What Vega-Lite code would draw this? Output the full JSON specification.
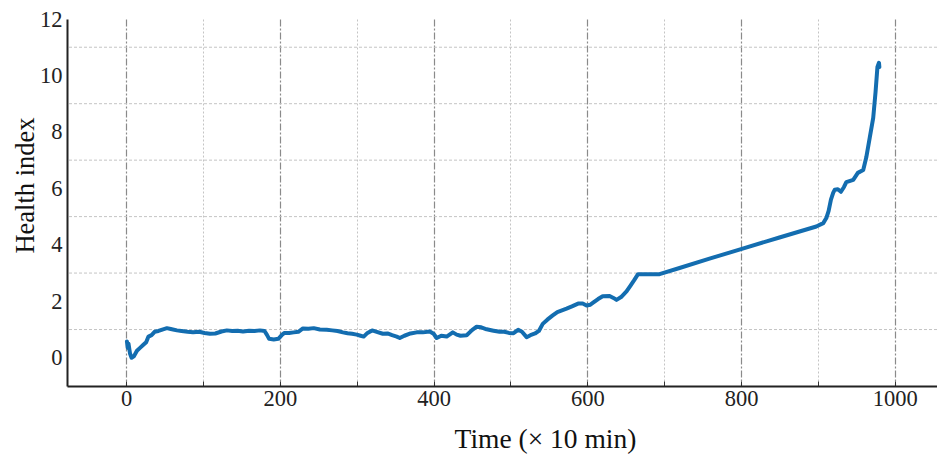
{
  "$schema": "https://vega.github.io/schema/vega-lite/v6.json",
  "width": 870,
  "height": 367,
  "autosize": {"type": "none"},
  "padding": {"left": 67, "top": 19, "right": 0, "bottom": 71},
  "background": "white",
  "config": {
    "view": {"stroke": null},
    "font": "Liberation Serif"
  },
  "datasets": {
    "hgrid": [{"g": 1}, {"g": 3}, {"g": 5}, {"g": 7}, {"g": 9}, {"g": 11}],
    "series": [
      {"t": 1, "h": 0.58}, {"t": 2, "h": 0.35}, {"t": 3, "h": 0.5}, {"t": 5, "h": 0.15}, {"t": 7, "h": 0.0},
      {"t": 10, "h": 0.05}, {"t": 14, "h": 0.25}, {"t": 18, "h": 0.35}, {"t": 22, "h": 0.45}, {"t": 26, "h": 0.55},
      {"t": 29, "h": 0.75}, {"t": 33, "h": 0.8}, {"t": 37, "h": 0.92}, {"t": 42, "h": 0.95}, {"t": 47, "h": 1.0},
      {"t": 53, "h": 1.05}, {"t": 58, "h": 1.02}, {"t": 66, "h": 0.97}, {"t": 72, "h": 0.95}, {"t": 80, "h": 0.92},
      {"t": 87, "h": 0.9}, {"t": 95, "h": 0.92}, {"t": 102, "h": 0.88}, {"t": 109, "h": 0.85}, {"t": 116, "h": 0.86},
      {"t": 124, "h": 0.93}, {"t": 131, "h": 0.97}, {"t": 138, "h": 0.95}, {"t": 145, "h": 0.96}, {"t": 152, "h": 0.93},
      {"t": 160, "h": 0.96}, {"t": 167, "h": 0.95}, {"t": 174, "h": 0.97}, {"t": 180, "h": 0.95}, {"t": 183, "h": 0.82},
      {"t": 186, "h": 0.67}, {"t": 192, "h": 0.65}, {"t": 198, "h": 0.67}, {"t": 203, "h": 0.82}, {"t": 206, "h": 0.88},
      {"t": 212, "h": 0.88}, {"t": 218, "h": 0.9}, {"t": 224, "h": 0.92}, {"t": 230, "h": 1.04}, {"t": 237, "h": 1.03},
      {"t": 244, "h": 1.05}, {"t": 252, "h": 1.0}, {"t": 261, "h": 0.99}, {"t": 268, "h": 0.97}, {"t": 275, "h": 0.95},
      {"t": 282, "h": 0.9}, {"t": 288, "h": 0.87}, {"t": 294, "h": 0.85}, {"t": 300, "h": 0.82}, {"t": 305, "h": 0.78},
      {"t": 309, "h": 0.75}, {"t": 314, "h": 0.88}, {"t": 320, "h": 0.97}, {"t": 326, "h": 0.92}, {"t": 334, "h": 0.85},
      {"t": 340, "h": 0.86}, {"t": 346, "h": 0.8}, {"t": 352, "h": 0.75}, {"t": 356, "h": 0.7}, {"t": 362, "h": 0.78},
      {"t": 370, "h": 0.86}, {"t": 378, "h": 0.9}, {"t": 386, "h": 0.9}, {"t": 395, "h": 0.93}, {"t": 400, "h": 0.85},
      {"t": 404, "h": 0.7}, {"t": 410, "h": 0.78}, {"t": 417, "h": 0.75}, {"t": 425, "h": 0.9}, {"t": 430, "h": 0.82},
      {"t": 435, "h": 0.78}, {"t": 443, "h": 0.8}, {"t": 450, "h": 0.98}, {"t": 456, "h": 1.1}, {"t": 462, "h": 1.08},
      {"t": 469, "h": 1.01}, {"t": 478, "h": 0.96}, {"t": 486, "h": 0.92}, {"t": 492, "h": 0.92}, {"t": 498, "h": 0.88},
      {"t": 504, "h": 0.87}, {"t": 510, "h": 0.99}, {"t": 515, "h": 0.92}, {"t": 521, "h": 0.73}, {"t": 526, "h": 0.8},
      {"t": 532, "h": 0.86}, {"t": 537, "h": 0.95}, {"t": 542, "h": 1.2}, {"t": 548, "h": 1.35}, {"t": 555, "h": 1.5},
      {"t": 561, "h": 1.62}, {"t": 567, "h": 1.68}, {"t": 573, "h": 1.74}, {"t": 580, "h": 1.82}, {"t": 588, "h": 1.92},
      {"t": 594, "h": 1.92}, {"t": 599, "h": 1.85}, {"t": 604, "h": 1.88}, {"t": 608, "h": 1.96}, {"t": 614, "h": 2.08},
      {"t": 620, "h": 2.18}, {"t": 629, "h": 2.19}, {"t": 634, "h": 2.12}, {"t": 638, "h": 2.05}, {"t": 644, "h": 2.15},
      {"t": 651, "h": 2.35}, {"t": 656, "h": 2.55}, {"t": 661, "h": 2.75}, {"t": 666, "h": 2.96}, {"t": 694, "h": 2.96},
      {"t": 720, "h": 3.18}, {"t": 759, "h": 3.51}, {"t": 800, "h": 3.85}, {"t": 850, "h": 4.26}, {"t": 898, "h": 4.65},
      {"t": 907, "h": 4.77}, {"t": 911, "h": 4.95}, {"t": 914, "h": 5.2}, {"t": 917, "h": 5.6}, {"t": 920, "h": 5.85},
      {"t": 922, "h": 5.95}, {"t": 926, "h": 5.97}, {"t": 930, "h": 5.88}, {"t": 934, "h": 6.05}, {"t": 937, "h": 6.22},
      {"t": 946, "h": 6.3}, {"t": 952, "h": 6.55}, {"t": 959, "h": 6.65}, {"t": 963, "h": 7.1}, {"t": 967.5, "h": 7.8},
      {"t": 972, "h": 8.5}, {"t": 975, "h": 9.4}, {"t": 977.5, "h": 10.3}, {"t": 979.5, "h": 10.45}, {"t": 980, "h": 10.3}
    ]
  },
  "layer": [
    {
      "data": {"name": "hgrid"},
      "mark": {"type": "rule", "color": "#c4c4c4", "strokeWidth": 1, "strokeDash": [3, 2]},
      "encoding": {
        "y": {"field": "g", "type": "quantitative"}
      }
    },
    {
      "data": {"name": "series"},
      "mark": {"type": "line", "color": "#136db0", "strokeWidth": 4, "strokeJoin": "round", "strokeCap": "round", "clip": true},
      "encoding": {
        "x": {
          "field": "t", "type": "quantitative",
          "scale": {"domain": [-77, 1055], "nice": false, "zero": false},
          "axis": {
            "title": "Time (× 10 min)",
            "titleFont": "Liberation Serif", "titleFontSize": 27.5, "titleFontWeight": "normal", "titleColor": "#111",
            "titleX": 478, "titlePadding": 16,
            "values": [0, 100, 200, 300, 400, 500, 600, 700, 800, 900, 1000],
            "labelExpr": "datum.value % 200 === 0 ? datum.label : ''",
            "format": "d",
            "labelFont": "Liberation Serif", "labelFontSize": 22.5, "labelColor": "#222", "labelPadding": 6,
            "domainColor": "#222", "domainWidth": 2,
            "ticks": true, "tickSize": -5, "tickColor": "#333", "tickWidth": 1,
            "grid": true,
            "gridColor": {"condition": {"test": "datum.value % 200 === 0", "value": "#8a8a8a"}, "value": "#c4c4c4"},
            "gridDash": {"condition": {"test": "datum.value % 200 === 0", "value": [7, 2, 2, 2]}, "value": [2, 2]},
            "gridWidth": {"condition": {"test": "datum.value % 200 === 0", "value": 1.2}, "value": 1}
          }
        },
        "y": {
          "field": "h", "type": "quantitative",
          "scale": {"domain": [-1, 12], "nice": false, "zero": false},
          "axis": {
            "title": "Health index",
            "titleFont": "Liberation Serif", "titleFontSize": 26.5, "titleFontWeight": "normal", "titleColor": "#111",
            "titlePadding": 0, "titleY": 166,
            "values": [0, 2, 4, 6, 8, 10, 12],
            "labelFont": "Liberation Serif", "labelFontSize": 22.5, "labelColor": "#222", "labelPadding": 5,
            "domainColor": "#222", "domainWidth": 2,
            "ticks": false,
            "grid": false
          }
        }
      }
    },
    {
      "mark": {"type": "rule", "color": "#222", "strokeWidth": 2},
      "encoding": {"y": {"datum": 12, "type": "quantitative"}}
    }
  ]
}
